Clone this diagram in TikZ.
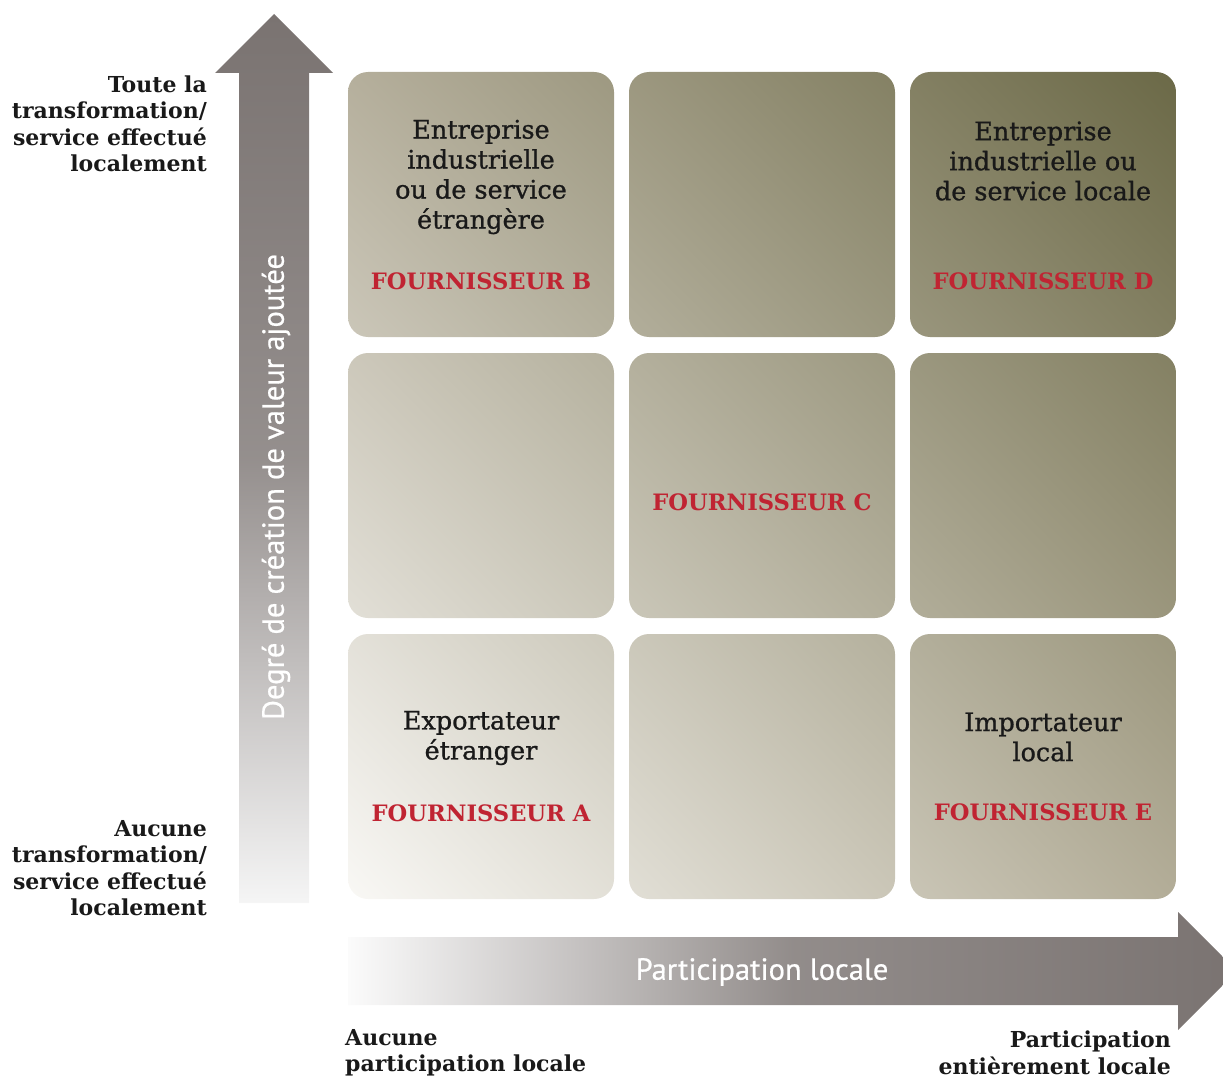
\documentclass[tikz,border=0pt]{standalone}
\usepackage{fontspec}
\usetikzlibrary{shadings}
\setmainfont{DejaVu Serif}
\newfontfamily\casefont[FakeBold=0.9]{DejaVu Serif}
\newfontfamily\axefont[FakeBold=0.6]{PT Sans}
\definecolor{rougef}{HTML}{C02432}
\definecolor{fleche}{HTML}{7A7371}
\definecolor{grilleBG}{HTML}{F9F8F5}
\definecolor{grilleHG}{HTML}{B5AF9C}
\definecolor{grilleBD}{HTML}{B3AD98}
\definecolor{grilleHD}{HTML}{6B6947}

\begin{document}
\begin{tikzpicture}[x=1pt, y=-1pt, every node/.style={inner sep=0pt}, lbl/.style={font=\bfseries\fontsize{22}{26.5}\selectfont, text=black!90}, txt/.style={align=center, font=\casefont\fontsize{25.5}{30}\selectfont, text=black!90}, fourn/.style={font=\bfseries\fontsize{22.6}{26}\selectfont, text=rougef}, axe/.style={font=\axefont\fontsize{30.5}{34}\selectfont, text=white}]
	\clip (0,0) rectangle (1223,1078);
	% grille 3x3, un seul degrade pour toutes les cases
	\shade[lower left=grilleBG, upper left=grilleHG, upper right=grilleHD, lower right=grilleBD, rounded corners=20pt] \foreach \x in {348,629,910} {\foreach \y in {72,353,634} {(\x,\y) rectangle ++(266,265)}};
	% les deux axes (middle color en dernier, sinon il est recalcule)
	\shade[top color=fleche, bottom color=gray!8, middle color=fleche!80] (239,903) -- (239,73) -- (215,73) -- (274,14) -- (333,73) -- (309,73) -- (309,903) -- cycle;
	\shade[left color=gray!3, right color=fleche, middle color=fleche!82] (348,937) -- (1178,937) -- (1178,912) -- (1237,971) -- (1178,1030) -- (1178,1005) -- (348,1005) -- cycle;
	\node[axe, rotate=90] (axev) at (276,487) {Degré de création de valeur ajoutée};
	\node[axe] (axeh) at (762,972) {Participation locale};
	\node[lbl, align=right, anchor=east] (haut) at (207,124) {Toute la\\transformation/\\service effectué\\localement};
	\node[lbl, align=right, anchor=east] (bas) at (207,868) {Aucune\\transformation/\\service effectué\\localement};
	\node[lbl, align=left, anchor=west] (gauche) at (345,1053) {Aucune\\participation locale};
	\node[lbl, align=right, anchor=east] (droite) at (1171,1053) {Participation\\entièrement locale};
	% contenu des cases
	\node[txt] (tB) at (481,177) {Entreprise\\industrielle\\ou de service\\étrangère};
	\node[fourn] (fB) at (481,281) {FOURNISSEUR B};
	\node[txt] (tD) at (1043,161) {Entreprise\\industrielle ou\\de service locale};
	\node[fourn] (fD) at (1043,281) {FOURNISSEUR D};
	\node[fourn] (fC) at (762,502) {FOURNISSEUR C};
	\node[txt] (tA) at (481,738) {Exportateur\\étranger};
	\node[fourn] (fA) at (481,813) {FOURNISSEUR A};
	\node[txt] (tE) at (1043,737) {Importateur\\local};
	\node[fourn] (fE) at (1043,812) {FOURNISSEUR E};
	
\end{tikzpicture}
\end{document}
